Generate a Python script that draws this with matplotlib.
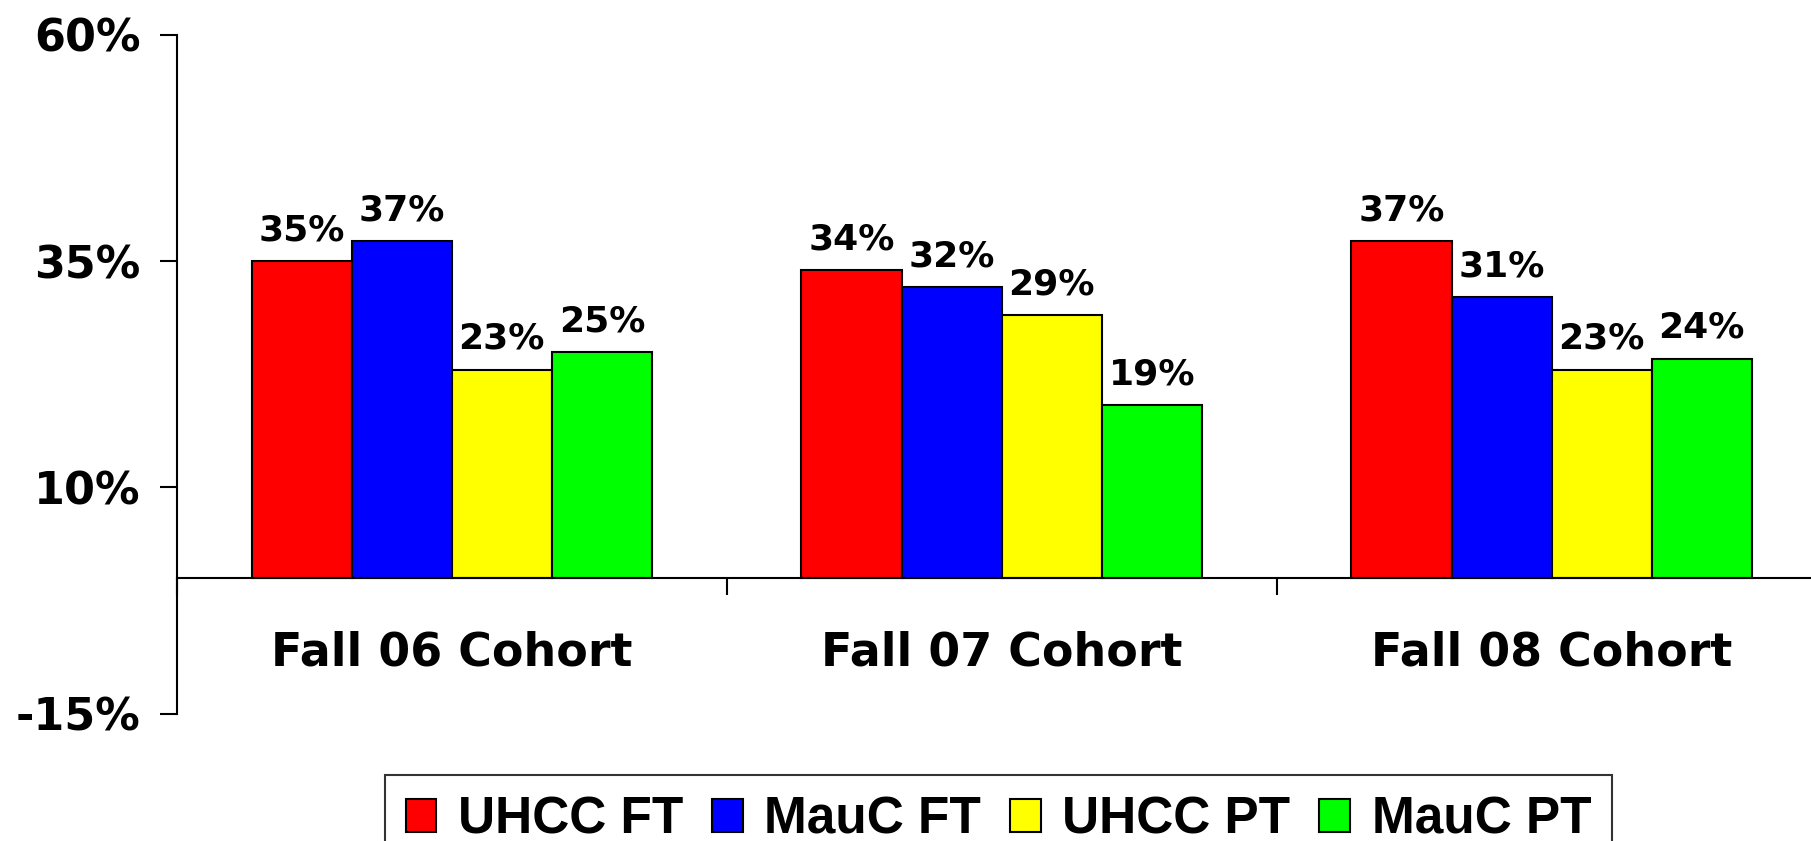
import numpy as np
import matplotlib
matplotlib.use("Agg")
import matplotlib.pyplot as plt

plt.rcParams['font.family'] = ['DejaVu Sans']
plt.rcParams['font.weight'] = 'bold'

# datos (porcentaje)
cohortes = ["Fall 06 Cohort", "Fall 07 Cohort", "Fall 08 Cohort"]
series = ["UHCC FT", "MauC FT", "UHCC PT", "MauC PT"]
uhcc_ft = [35.0, 34.0, 37.2]
mauc_ft = [37.2, 32.1, 31.0]
uhcc_pt = [23.0, 29.0, 23.0]
mauc_pt = [24.9, 19.1, 24.2]
colores = ["#ff0000", "#0000ff", "#ffff00", "#00ff00"]
yticks = [-15, 10, 35, 60]

valores = [uhcc_ft, mauc_ft, uhcc_pt, mauc_pt]

fig = plt.figure(figsize=(18.11, 8.41), dpi=100)
ax = fig.add_axes([0.0976, 0.1513, 0.911, 0.8075])

ancho = 0.182
x = np.arange(len(cohortes)) + 0.5
handles = []
for i, (serie, vals) in enumerate(zip(series, valores)):
    pos = x + (i - 1.5) * ancho
    b = ax.bar(pos, vals, ancho, color=colores[i], edgecolor='black',
               linewidth=1.5, label=serie, zorder=3)
    handles.append(b)
    # etiquetas encima de cada barra
    for px, v in zip(pos, vals):
        ax.annotate(f"{round(v)}%", (px, v), xytext=(0, 10),
                    textcoords='offset points', ha='center', va='bottom',
                    fontsize=26, fontweight='bold')

ax.set_xlim(0, 3)
ax.set_ylim(-15, 60)

# ejes
ax.spines['top'].set_visible(False)
ax.spines['right'].set_visible(False)
ax.spines['left'].set_linewidth(1.5)
ax.spines['bottom'].set_position(('data', 0))
ax.spines['bottom'].set_linewidth(1.5)
ax.spines['bottom'].set_zorder(4)

ax.set_yticks(yticks)
ax.set_yticklabels([f"{t}%" for t in yticks], fontsize=32, fontweight='bold')
ax.tick_params(axis='y', direction='out', length=12, width=1.5, pad=14)

ax.set_xticks([0, 1, 2, 3])
ax.set_xticklabels([])
ax.set_xticks(x, minor=True)
ax.set_xticklabels(cohortes, minor=True, fontsize=33, fontweight='bold')
ax.tick_params(axis='x', which='major', direction='out', length=12, width=1.5)
ax.tick_params(axis='x', which='minor', length=0, pad=38)

leg = fig.legend(handles=handles, labels=series, loc='upper left',
                 bbox_to_anchor=(385 / 1811, 1 - 775 / 841), ncol=4,
                 prop={'family': 'Liberation Sans', 'weight': 'bold', 'size': 37},
                 frameon=True, fancybox=False, borderpad=0.4,
                 handlelength=0.6, handleheight=0.6, handletextpad=0.42,
                 columnspacing=0.56, borderaxespad=0)
leg.get_frame().set_edgecolor('black')
leg.get_frame().set_linewidth(1.5)

plt.savefig("out.png", dpi=100)
